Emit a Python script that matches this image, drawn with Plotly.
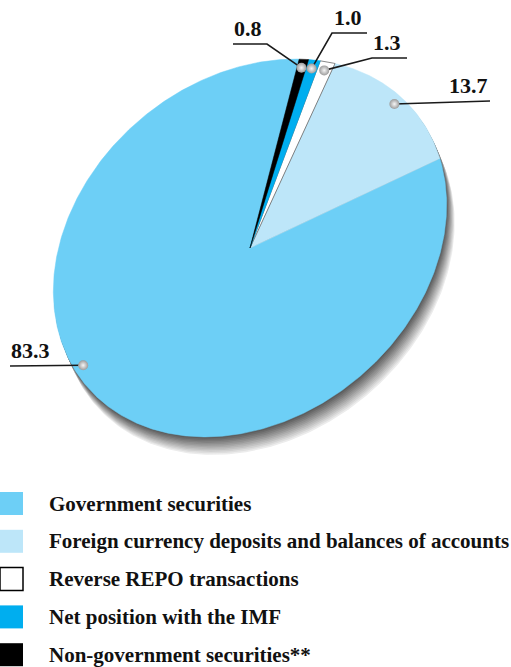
import numpy as np
import plotly.graph_objects as go

# ---- data -------------------------------------------------------------
categories = [
    "Government securities",
    "Foreign currency deposits and balances of accounts",
    "Reverse REPO transactions",
    "Net position with the IMF",
    "Non-government securities**",
]
shares = [83.3, 13.7, 1.3, 1.0, 0.8]
value_labels = ["83.3", "13.7", "1.3", "1.0", "0.8"]

# ---- styling ----------------------------------------------------------
colors = ["#6dcff6", "#bde6f9", "#ffffff", "#00aeef", "#000000"]
outline = ["#6dcff6", "#bde6f9", "#6a6a6a", "#00aeef", "#000000"]

W, H = 511, 667
CX, CY = 250, 248          # pie centre (px)
RA, RB = 214, 169          # semi-axes of the tilted disc
TILT = np.radians(40)      # rotation of the major axis
START = 42.0               # start angle of the first slice, counter-clockwise
SHADOW = (8.0, 18.0)       # drop-shadow offset
LABEL_FONT = dict(family="Liberation Serif", size=22, color="#111111", weight="bold")
LEGEND_FONT = dict(family="Liberation Serif", size=21, color="#111111", weight="bold")

# where the label dot sits inside each slice (fraction of its sweep)
anchor_frac = [0.44, 0.5, 0.5, 0.5, 0.5]
anchor_r = 0.955
# label text centre, underline y, and the leader path ends (px)
label_text_x = [30, 468, 387, 347.5, 248]
label_line_y = [366, 101, 58, 33, 44]
label_path = [
    [(10, 366)],
    [(490, 101)],
    [(407, 58), (372, 58)],
    [(367, 33), (332, 33)],
    [(233, 44), (267, 44)],
]

# legend rows
legend_y0, legend_dy = 503.5, 37.8


def disc_xy(theta_deg, r=1.0, dx=0.0, dy=0.0):
    t = np.radians(theta_deg)
    p = RA * r * np.cos(t)
    q = RB * r * np.sin(t)
    x = CX + dx + p * np.cos(TILT) - q * np.sin(TILT)
    y = CY + dy - (p * np.sin(TILT) + q * np.cos(TILT))
    return x, y


fig = go.Figure()

# drop shadow: stacked translated discs, light to dark
n_layers = 12
full = np.linspace(0, 360, 361)
for i in range(n_layers, 0, -1):
    f = i / n_layers
    g = int(84 + (236 - 84) * (f ** 1.1))
    sx, sy = disc_xy(full, dx=SHADOW[0] * f, dy=SHADOW[1] * f)
    fig.add_trace(go.Scatter(
        x=sx, y=sy, mode="lines", fill="toself",
        fillcolor=f"rgb({g},{g},{g})", line=dict(width=0),
        hoverinfo="skip", showlegend=False,
    ))

# slices
total = sum(shares)
bounds = [START]
for v in shares:
    bounds.append(bounds[-1] + 360.0 * v / total)

for k, name in enumerate(categories):
    a0, a1 = bounds[k], bounds[k + 1]
    n = max(int(abs(a1 - a0) * 2), 4)
    ang = np.linspace(a0, a1, n)
    ax_, ay_ = disc_xy(ang)
    xs = np.concatenate([[CX], ax_, [CX]])
    ys = np.concatenate([[CY], ay_, [CY]])
    fig.add_trace(go.Scatter(
        x=xs, y=ys, mode="lines", fill="toself", fillcolor=colors[k],
        line=dict(width=0.8 if colors[k] == "#ffffff" else 0.5, color=outline[k]),
        name=name, hoverinfo="name", showlegend=False,
    ))

# value labels with leader lines and dots
dot_x, dot_y = [], []
for k in range(len(shares)):
    a0, a1 = bounds[k], bounds[k + 1]
    ang = a0 + (a1 - a0) * anchor_frac[k]
    px, py = disc_xy(ang, anchor_r)
    dot_x.append(px)
    dot_y.append(py)
    pts = label_path[k] + [(px, py)]
    fig.add_trace(go.Scatter(
        x=[p[0] for p in pts], y=[p[1] for p in pts], mode="lines",
        line=dict(color="#1a1a1a", width=1.6), hoverinfo="skip", showlegend=False,
    ))
    fig.add_annotation(
        x=label_text_x[k], y=label_line_y[k] - 1, text=value_labels[k],
        xref="x", yref="y", xanchor="center", yanchor="bottom",
        showarrow=False, font=LABEL_FONT,
    )

fig.add_trace(go.Scatter(
    x=dot_x, y=dot_y, mode="markers",
    marker=dict(size=10, color="#9c9c9c", line=dict(width=0),
                gradient=dict(type="radial", color="#f6f6f6")),
    hoverinfo="skip", showlegend=False,
))

# legend: swatches and captions
leg_y = [legend_y0 + i * legend_dy for i in range(len(categories))]
fig.add_trace(go.Scatter(
    x=[11.5] * len(categories), y=leg_y, mode="markers",
    marker=dict(symbol="square", size=23, color=colors,
                line=dict(color=["#6dcff6", "#bde6f9", "#000000", "#00aeef", "#000000"],
                          width=[0, 0, 1.5, 0, 0])),
    hoverinfo="skip", showlegend=False,
))
for i, name in enumerate(categories):
    fig.add_annotation(
        x=47, y=leg_y[i], text=name, xref="x", yref="y",
        xanchor="left", yanchor="middle", showarrow=False, font=LEGEND_FONT,
    )

fig.update_layout(
    width=W, height=H,
    margin=dict(l=0, r=0, t=0, b=0),
    paper_bgcolor="white", plot_bgcolor="white",
    xaxis=dict(range=[0, W], visible=False, fixedrange=True),
    yaxis=dict(range=[H, 0], visible=False, fixedrange=True),
    showlegend=False,
)

fig.write_html("out.html")
